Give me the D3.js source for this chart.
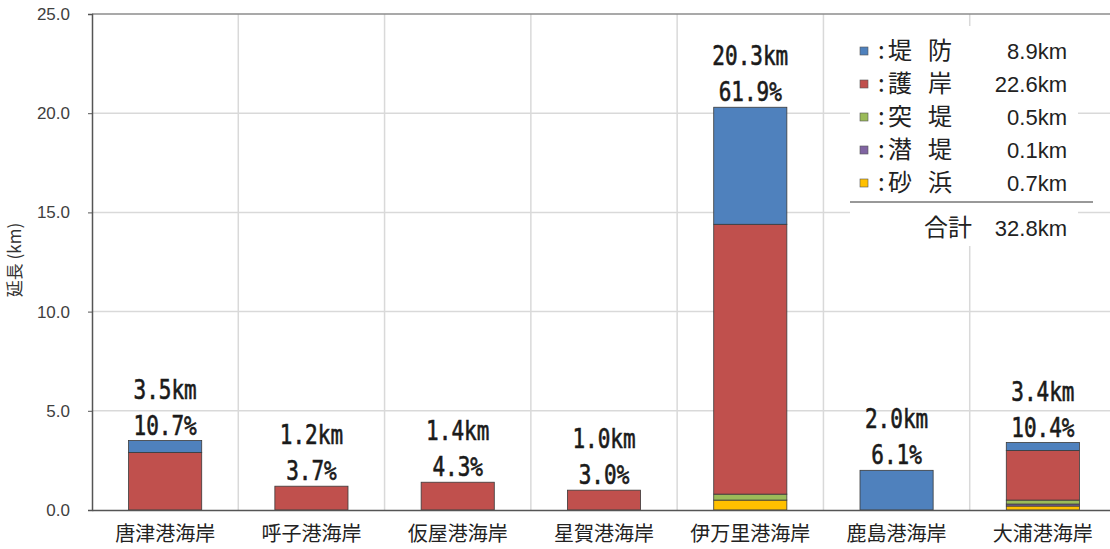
<!DOCTYPE html>
<html lang="ja">
<head>
<meta charset="utf-8">
<title>海岸別延長</title>
<script src="https://cdn.jsdelivr.net/npm/d3@7"></script>
<style>
  * { margin: 0; padding: 0; }
  body { background: #fff; }
  svg text { font-family: "Noto Sans CJK JP", sans-serif; }
</style>
</head>
<body>
<div id="chart"></div>
<script>
// データ
var categories = ["唐津港海岸", "呼子港海岸", "仮屋港海岸", "星賀港海岸", "伊万里港海岸", "鹿島港海岸", "大浦港海岸"];
var seriesNames = ["堤防", "護岸", "突堤", "潜堤", "砂浜"];
var seawall   = [0.6, 0,   0,   0,   5.9,  2.0, 0.4];  // 堤防
var revetment = [2.9, 1.2, 1.4, 1.0, 13.6, 0,   2.5];  // 護岸
var jetty     = [0,   0,   0,   0,   0.3,  0,   0.2];  // 突堤
var submerged = [0,   0,   0,   0,   0,    0,   0.1];  // 潜堤
var beach     = [0,   0,   0,   0,   0.5,  0,   0.2];  // 砂浜
var shares = ["10.7%", "3.7%", "4.3%", "3.0%", "61.9%", "6.1%", "10.4%"];
var yTicks = [0, 5, 10, 15, 20, 25];

var colors = {"堤防": "#4f81bd", "護岸": "#c0504d", "突堤": "#9bbb59", "潜堤": "#8064a2", "砂浜": "#ffc000"};
var seriesValues = {"堤防": seawall, "護岸": revetment, "突堤": jetty, "潜堤": submerged, "砂浜": beach};

var rows = categories.map(function(c, i) {
  var r = {name: c};
  seriesNames.forEach(function(s) { r[s] = seriesValues[s][i]; });
  return r;
});

var svgWidth = 1110, svgHeight = 549;
var plotLeft = 92, plotRight = 1116, plotTop = 14, plotBottom = 510;

var svg = d3.select("#chart").append("svg")
  .attr("width", svgWidth)
  .attr("height", svgHeight);

var x = d3.scaleBand().domain(categories).range([plotLeft, plotRight])
  .paddingInner(0.5).paddingOuter(0.25);
var y = d3.scaleLinear().domain([0, 25]).range([plotBottom, plotTop]);

// グリッド
svg.append("g").selectAll("line")
  .data(yTicks.slice(1, -1))
  .join("line")
  .attr("x1", plotLeft).attr("x2", plotRight)
  .attr("y1", function(d) { return y(d); }).attr("y2", function(d) { return y(d); })
  .attr("stroke", "#d9d9d9").attr("stroke-width", 1.5);

svg.append("g").selectAll("line")
  .data(categories.slice(1))
  .join("line")
  .attr("x1", function(d) { return x(d) - x.step() * 0.25; })
  .attr("x2", function(d) { return x(d) - x.step() * 0.25; })
  .attr("y1", plotTop).attr("y2", plotBottom)
  .attr("stroke", "#d9d9d9").attr("stroke-width", 1.5);

// 上枠
svg.append("line").attr("x1", plotLeft).attr("x2", plotRight).attr("y1", plotTop).attr("y2", plotTop)
  .attr("stroke", "#8c8c8c").attr("stroke-width", 1.5);

// Y軸
var yAxis = d3.axisLeft(y).tickValues(yTicks).tickSize(4).tickFormat(d3.format(".1f"));
var yAxisG = svg.append("g").attr("transform", "translate(" + plotLeft + ",0)").call(yAxis);
yAxisG.select(".domain").attr("stroke", "#555").attr("stroke-width", 1.5);
yAxisG.selectAll("line").attr("stroke", "#555");
yAxisG.selectAll("text")
  .attr("x", -22)
  .style("font-family", "'Liberation Sans', Arial, sans-serif")
  .attr("font-size", "17px").attr("fill", "#404040");

svg.append("text")
  .attr("transform", "translate(21,260) rotate(-90)")
  .attr("text-anchor", "middle")
  .attr("font-size", "17px").attr("fill", "#333")
  .text("延長 (km)");

// 積み上げ
var stack = d3.stack().keys(seriesNames.slice().reverse());
var stacked = stack(rows);

svg.append("g").selectAll("g")
  .data(stacked)
  .join("g")
  .attr("fill", function(d) { return colors[d.key]; })
  .selectAll("rect")
  .data(function(d) { return d.filter(function(p) { return p[1] - p[0] > 0; }); })
  .join("rect")
  .attr("x", function(d) { return x(d.data.name); })
  .attr("width", x.bandwidth())
  .attr("y", function(d) { return y(d[1]); })
  .attr("height", function(d) { return y(d[0]) - y(d[1]); })
  .attr("stroke", "#3a3a3a").attr("stroke-width", 0.8);

// X軸
var xAxis = d3.axisBottom(x).tickSize(0);
var xAxisG = svg.append("g").attr("transform", "translate(0," + plotBottom + ")").call(xAxis);
xAxisG.select(".domain").attr("stroke", "#555").attr("stroke-width", 1.5);
xAxisG.selectAll("text")
  .attr("y", 17)
  .attr("font-size", "20px").attr("fill", "#222")
  .style("font-family", "'Noto Sans CJK JP', sans-serif");

// ラベル（縦長の等幅数字）
var totals = rows.map(function(r) { return d3.sum(seriesNames, function(s) { return r[s]; }); });
var labels = svg.append("g").selectAll("g")
  .data(rows)
  .join("g")
  .attr("transform", function(d, i) {
    return "translate(" + (x(d.name) + x.bandwidth() / 2) + "," + y(totals[i]) + ")";
  });
labels.append("text")
  .attr("transform", "translate(0,-42) scale(1,1.25)")
  .attr("text-anchor", "middle")
  .style("font-family", "'DejaVu Sans Mono', monospace")
  .attr("font-size", "21px").attr("fill", "#1a1a1a")
  .attr("stroke", "#1a1a1a").attr("stroke-width", 0.5)
  .text(function(d, i) { return totals[i].toFixed(1) + "km"; });
labels.append("text")
  .attr("transform", "translate(0,-6) scale(1,1.25)")
  .attr("text-anchor", "middle")
  .style("font-family", "'DejaVu Sans Mono', monospace")
  .attr("font-size", "21px").attr("fill", "#1a1a1a")
  .attr("stroke", "#1a1a1a").attr("stroke-width", 0.5)
  .text(function(d, i) { return shares[i]; });

// 凡例
var legend = svg.append("g");
legend.append("rect").attr("x", 850).attr("y", 26).attr("width", 228).attr("height", 220).attr("fill", "#fff");
var seriesTotals = seriesNames.map(function(s) { return d3.sum(seriesValues[s]); });
var item = legend.selectAll("g")
  .data(seriesNames)
  .join("g")
  .attr("transform", function(d, i) { return "translate(0," + (51 + i * 33) + ")"; });
item.append("rect")
  .attr("x", 860).attr("y", -4).attr("width", 8).attr("height", 8)
  .attr("fill", function(d) { return colors[d]; })
  .attr("stroke", "#555").attr("stroke-width", 0.6);
item.append("text")
  .attr("y", 8)
  .attr("font-size", "24px").attr("fill", "#222")
  .each(function(d) {
    var t = d3.select(this);
    t.append("tspan").attr("x", 878).text(":");
    t.append("tspan").attr("x", 888).text(d.charAt(0));
    t.append("tspan").attr("x", 928).text(d.charAt(1));
  });
item.append("text")
  .attr("x", 1067).attr("y", 8)
  .attr("text-anchor", "end")
  .style("font-family", "'Liberation Sans', Arial, sans-serif")
  .attr("font-size", "22px").attr("fill", "#222")
  .text(function(d, i) { return seriesTotals[i].toFixed(1) + "km"; });

legend.append("line").attr("x1", 850).attr("x2", 1093).attr("y1", 202).attr("y2", 202)
  .attr("stroke", "#333").attr("stroke-width", 1);
legend.append("text")
  .attr("x", 924).attr("y", 236)
  .attr("font-size", "24px").attr("fill", "#222")
  .text("合計");
legend.append("text")
  .attr("x", 1067).attr("y", 236)
  .attr("text-anchor", "end")
  .style("font-family", "'Liberation Sans', Arial, sans-serif")
  .attr("font-size", "22px").attr("fill", "#222")
  .text(d3.sum(seriesTotals).toFixed(1) + "km");
</script>
</body>
</html>
